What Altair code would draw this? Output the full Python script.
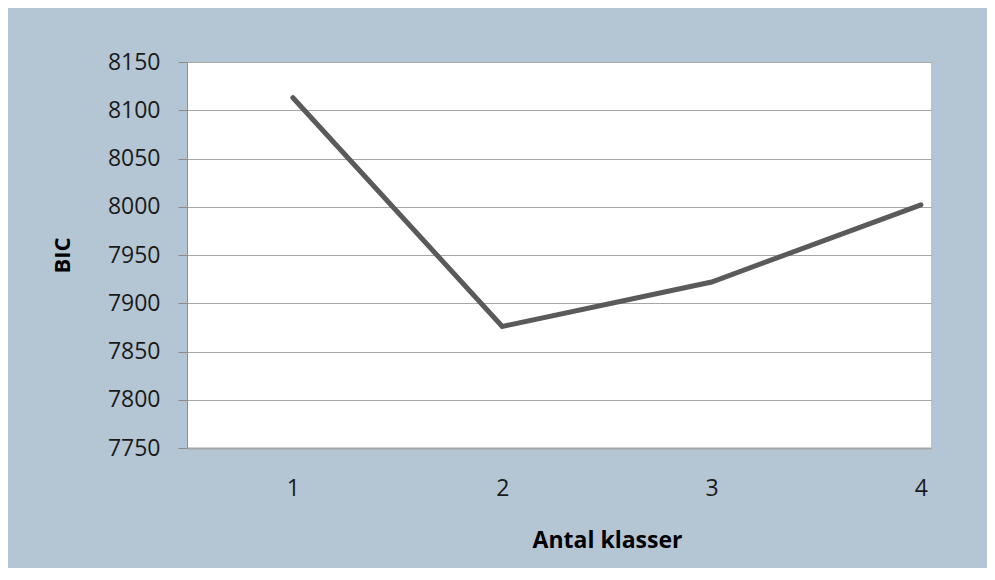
import altair as alt
import pandas as pd

klasser = [1, 2, 3, 4]
bic = [8113, 7876, 7922, 8002]
y_ticks = [7750, 7800, 7850, 7900, 7950, 8000, 8050, 8100, 8150]
x_ticks = [1, 2, 3, 4]

df = pd.DataFrame({"klasser": klasser, "bic": bic})

FONT = "Open Sans"
BG = "#b4c6d4"

chart = (
    alt.Chart(df)
    .mark_line(color="#5a5a5a", strokeWidth=5, strokeCap="round", strokeJoin="miter")
    .encode(
        x=alt.X(
            "klasser:Q",
            scale=alt.Scale(domain=[0.494, 4.048], nice=False, zero=False),
            axis=alt.Axis(
                values=x_ticks,
                format="d",
                title="Antal klasser",
                ticks=False,
                grid=False,
                domainColor="#a6a6a6",
                domainWidth=2,
                labelFont=FONT,
                labelFontSize=23,
                labelColor="#1a1a1a",
                labelPadding=29,
                titleFont=FONT,
                titleFontSize=23,
                titleFontWeight="bold",
                titleColor="#000000",
                titleX=420,
                titleY=92,
                titleBaseline="middle",
                titleAlign="center",
            ),
        ),
        y=alt.Y(
            "bic:Q",
            scale=alt.Scale(domain=[7750, 8150], nice=False, zero=False),
            axis=alt.Axis(
                values=y_ticks,
                format="d",
                title="BIC",
                ticks=True,
                tickSize=9,
                tickColor="#8c8c8c",
                grid=True,
                gridColor="#a6a6a6",
                gridWidth=1,
                domainColor="#8c8c8c",
                domainWidth=1,
                labelFont=FONT,
                labelFontSize=23,
                labelColor="#1a1a1a",
                labelPadding=18,
                titleFont=FONT,
                titleFontSize=22,
                titleFontWeight="bold",
                titleColor="#000000",
                titleX=-125,
                titleY=193,
                titleBaseline="middle",
                titleAlign="center",
                titleAngle=270,
            ),
        ),
    )
    .properties(
        width=744,
        height=386,
        background=BG,
        padding={"left": 179, "top": 54, "right": 56, "bottom": 120},
        autosize=alt.AutoSizeParams(type="none"),
    )
    .configure_view(fill="#ffffff", stroke=None)
)

chart.save("out.html", embed_options={"renderer": "svg", "actions": False})
